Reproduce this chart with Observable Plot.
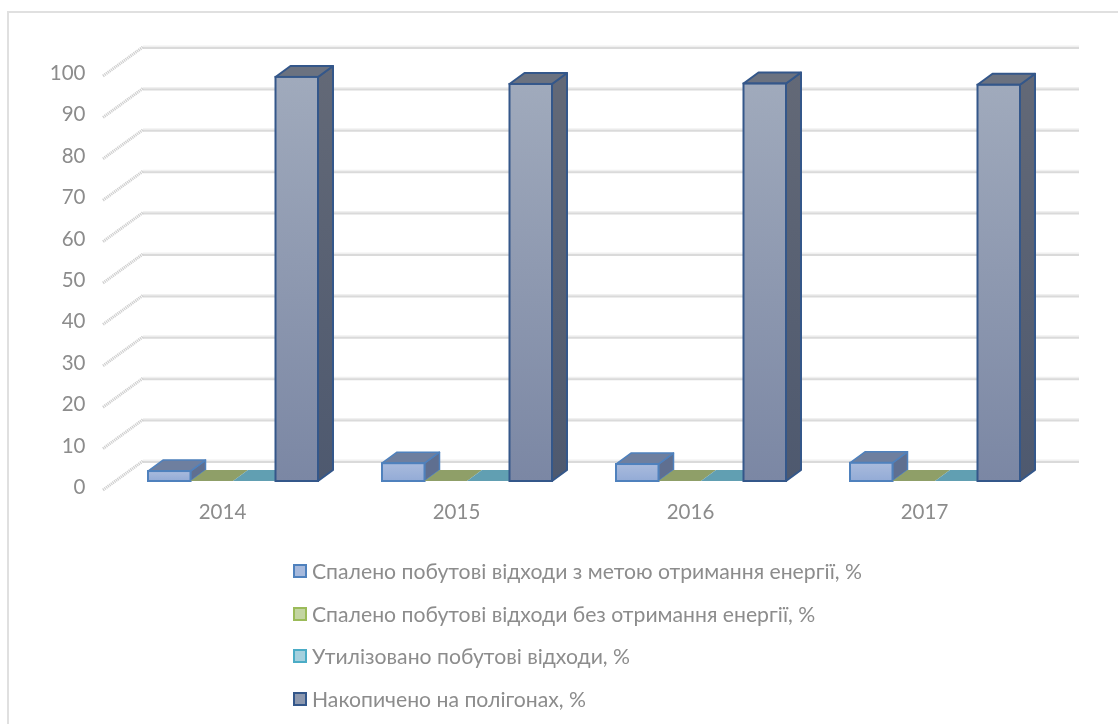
<!DOCTYPE html>
<html lang="uk">
<head>
<meta charset="utf-8">
<script src="https://cdn.jsdelivr.net/npm/d3@7"></script>
<script src="https://cdn.jsdelivr.net/npm/@observablehq/plot@0.6"></script>
<style>
  html, body { margin: 0; padding: 0; width: 1118px; height: 724px; overflow: hidden; background: #fff; }
  #frame { position: absolute; left: 7px; top: 11px; width: 1111px; height: 760px; border-left: 2px solid #e0e0e0; border-top: 2px solid #e0e0e0; box-sizing: border-box; }
  #chart { position: absolute; left: 0; top: 0; filter: blur(0.35px); }
  #legend { position: absolute; left: 293px; top: 550px; font-family: Lato, "Open Sans", sans-serif; font-size: 21.2px; color: #8c8c8c; filter: blur(0.35px); }
  .row { display: flex; align-items: center; height: 42.6px; white-space: nowrap; }
  .sw { width: 14px; height: 14px; box-sizing: border-box; border: 2px solid; margin-right: 5px; flex: none; }
</style>
</head>
<body>
<div id="frame"></div>
<div id="chart"></div>
<div id="legend"></div>
<script>
const years = ["2014", "2015", "2016", "2017"];
const seriesNames = [
  "Спалено побутові відходи з метою отримання енергії, %",
  "Спалено побутові відходи без отримання енергії, %",
  "Утилізовано побутові відходи, %",
  "Накопичено на полігонах, %"
];
const burnedWithEnergy = [2.4, 4.3, 4.1, 4.4];
const burnedNoEnergy = [0, 0, 0, 0];
const recycled = [0, 0, 0, 0];
const landfilled = [97.6, 95.9, 96, 95.7];
const yTicks = [0, 10, 20, 30, 40, 50, 60, 70, 80, 90, 100];
const seriesValues = [burnedWithEnergy, burnedNoEnergy, recycled, landfilled];

const styles = [
  {id: "a", stroke: "#4f81bd", front: ["#a9bbdd", "#93abd6"], top: "#6e7f9f", side: "#5f6f90", sw: "#a6b9dc"},
  {id: "b", stroke: "#9bbb59", front: ["#c6d6a0", "#b4c98a"], top: "#8f9f68", side: "#7f8f5a", sw: "#c3d5a1"},
  {id: "c", stroke: "#4bacc6", front: ["#a8d3e0", "#93c6d6"], top: "#619fb2", side: "#55909f", sw: "#a4d0de"},
  {id: "d", stroke: "#34578a", front: ["#a0aabc", "#7b87a4"], top: "#6b7280", side: ["#636977", "#4e596f"], sw: "#8d98ae"}
];

const bandWidth = 234, slotStart = 43, slotWidth = 42.5, depthX = 15, depthY = -11;
const rows = seriesValues.map((vals) => years.map((year, i) => ({year, value: vals[i]})));

const defs = () => {
  const d = d3.create("svg:defs");
  styles.forEach((s) => {
    const g = d.append("linearGradient").attr("id", "front-" + s.id).attr("x1", 0).attr("y1", 0).attr("x2", 0).attr("y2", 1);
    g.append("stop").attr("offset", 0).attr("stop-color", s.front[0]);
    g.append("stop").attr("offset", 1).attr("stop-color", s.front[1]);
  });
  const g = d.append("linearGradient").attr("id", "side-d").attr("x1", 0).attr("y1", 0).attr("x2", 0).attr("y2", 1);
  g.append("stop").attr("offset", 0).attr("stop-color", styles[3].side[0]);
  g.append("stop").attr("offset", 1).attr("stop-color", styles[3].side[1]);
  return d.node();
};

// Walls: diagonal lines running from the front plane to the back grid
const wallLines = (index, {y}) => {
  const g = d3.create("svg:g");
  yTicks.forEach((t) => {
    g.append("line")
      .attr("x1", 103).attr("x2", 143)
      .attr("y1", y(t) + 9).attr("y2", y(t) - 20)
      .attr("stroke", "#cfcfcf").attr("stroke-width", 3).attr("stroke-dasharray", "1.2 0.8");
  });
  return g.node();
};

// Top and side faces of one series' boxes, placed through the x and y scales
const faces = (k) => (index, {x, y}) => {
  const g = d3.create("svg:g");
  const s = styles[k];
  rows[k].forEach((r) => {
    const x0 = x(r.year) + slotStart + k * slotWidth, x1 = x0 + slotWidth;
    const yt = y(r.value), yb = y(0);
    const sw = k === 3 ? 2 : 1.5;
    if (r.value > 0) {
      g.append("polygon")
        .attr("points", [[x1, yb], [x1 + depthX, yb + depthY], [x1 + depthX, yt + depthY], [x1, yt]].join(" "))
        .attr("fill", k === 3 ? "url(#side-d)" : s.side).attr("stroke", s.stroke).attr("stroke-width", sw).attr("stroke-linejoin", "round");
    }
    g.append("polygon")
      .attr("points", [[x0, yt], [x0 + depthX, yt + depthY], [x1 + depthX, yt + depthY], [x1, yt]].join(" "))
      .attr("fill", s.top).attr("stroke", r.value > 0 ? s.stroke : "none").attr("stroke-width", sw).attr("stroke-linejoin", "round");
  });
  return g.node();
};

const boxMarks = seriesValues.flatMap((_, k) => [
  faces(k),
  Plot.barY(rows[k], {
    x: "year", y: "value",
    insetLeft: slotStart + k * slotWidth,
    insetRight: bandWidth - slotStart - (k + 1) * slotWidth,
    fill: `url(#front-${styles[k].id})`,
    stroke: styles[k].stroke,
    strokeWidth: 2
  })
]);

const chart = Plot.plot({
  width: 1118,
  height: 540,
  marginLeft: 105,
  marginRight: 77,
  marginTop: 67,
  marginBottom: 59,
  style: {background: "transparent", fontFamily: "Lato, 'Open Sans', sans-serif", fontSize: "20.5px", color: "#8c8c8c"},
  x: {domain: years, padding: 0, label: null},
  y: {domain: [0, 100], label: null},
  marks: [
    defs,
    Plot.ruleY(yTicks, {dx: 38, dy: -21, stroke: "#f0f0f0", strokeWidth: 2}),
    Plot.ruleY(yTicks, {dx: 38, dy: -19.5, stroke: "#dadada", strokeWidth: 2}),
    wallLines,
    ...boxMarks,
    Plot.axisY({ticks: yTicks, tickSize: 0, tickPadding: 20, dy: 6, label: null, fill: "#8c8c8c"}),
    Plot.axisX({tickSize: 0, tickPadding: 23, label: null, fill: "#8c8c8c"})
  ]
});
document.getElementById("chart").appendChild(chart);

const legend = d3.select("#legend");
seriesNames.forEach((name, k) => {
  const row = legend.append("div").attr("class", "row");
  row.append("span").attr("class", "sw").style("background", styles[k].sw).style("border-color", styles[k].stroke);
  row.append("span").text(name);
});
</script>
</body>
</html>
